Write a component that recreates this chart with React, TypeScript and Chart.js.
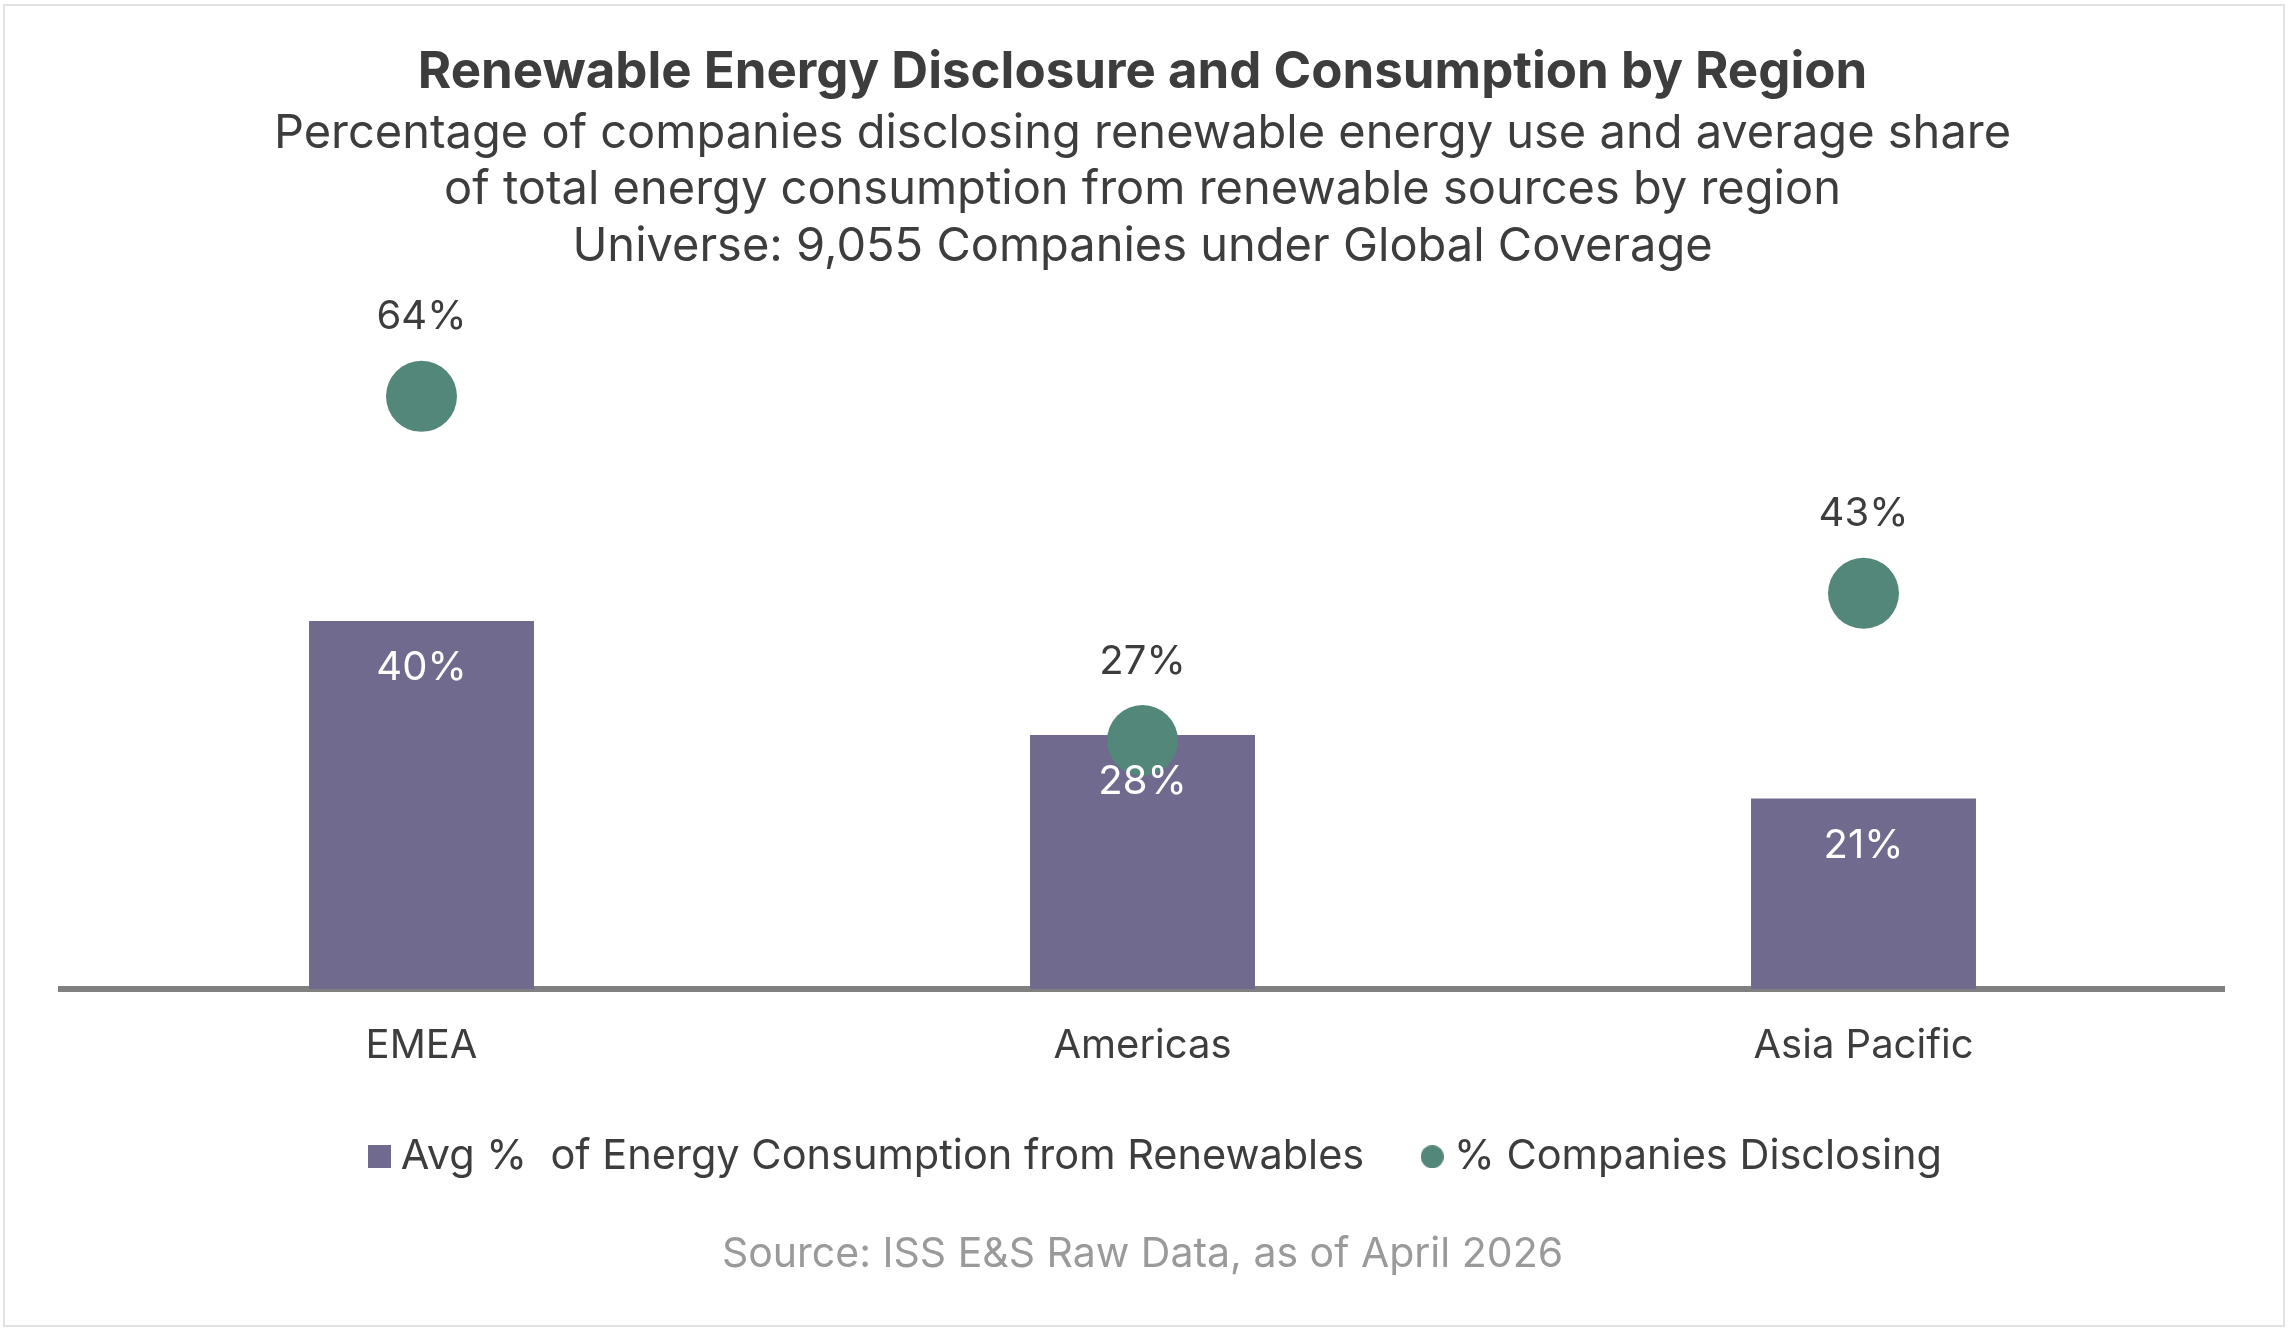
import React, { useEffect, useRef } from "react";
import { Chart, registerables } from "chart.js";

Chart.register(...registerables);

const categories = ["EMEA", "Americas", "Asia Pacific"];
const avgRenewableShare = [40, 27.6, 20.7];
const companiesDisclosing = [64.4, 27, 43];
const seriesNames = ["Avg %  of Energy Consumption from Renewables", "% Companies Disclosing"];
const titleText = "Renewable Energy Disclosure and Consumption by Region";
const subtitleLines = [
  "Percentage of companies disclosing renewable energy use and average share",
  "of total energy consumption from renewable sources by region",
  "Universe: 9,055 Companies under Global Coverage",
];
const sourceText = "Source: ISS E&S Raw Data, as of April 2026";

const FONT = "Inter, 'Liberation Sans', Arial, sans-serif";
const BAR_COLOR = "#706a8e";
const DOT_COLOR = "#53877a";
const TEXT_DARK = "#3d3d3d";

function makeRectIcon(w: number, h: number, color: string) {
  const c = document.createElement("canvas");
  c.width = w;
  c.height = h;
  const g = c.getContext("2d")!;
  g.fillStyle = color;
  g.fillRect(0, 0, w, h);
  return c;
}

function makeCircleIcon(d: number, color: string) {
  const c = document.createElement("canvas");
  c.width = d;
  c.height = d;
  const g = c.getContext("2d")!;
  g.fillStyle = color;
  g.beginPath();
  g.arc(d / 2, d / 2, d / 2, 0, Math.PI * 2);
  g.fill();
  return c;
}

const pct = (v: number) => `${Math.round(v)}%`;

const labelsPlugin = {
  id: "valueLabels",
  afterLayout(chart: any) {
    const lg = chart.legend;
    if (lg) {
      lg.left += 17.5;
      lg.right += 17.5;
    }
  },
  afterDatasetsDraw(chart: any) {
    const ctx = chart.ctx;
    ctx.save();
    ctx.textAlign = "center";
    ctx.textBaseline = "middle";
    ctx.font = `40px ${FONT}`;
    const lineMeta = chart.getDatasetMeta(1);
    lineMeta.data.forEach((pt: any, i: number) => {
      ctx.fillStyle = TEXT_DARK;
      ctx.fillText(pct(companiesDisclosing[i]), pt.x, pt.y - 79);
    });
    const barMeta = chart.getDatasetMeta(0);
    barMeta.data.forEach((bar: any, i: number) => {
      ctx.fillStyle = "#ffffff";
      ctx.fillText(pct(avgRenewableShare[i]), bar.x, bar.y + 47);
    });
    ctx.restore();
  },
  afterDraw(chart: any) {
    const ctx = chart.ctx;
    ctx.save();
    ctx.textAlign = "center";
    ctx.textBaseline = "middle";
    ctx.font = `41px ${FONT}`;
    ctx.fillStyle = "#9a9a9a";
    const cx = (chart.chartArea.left + chart.chartArea.right) / 2;
    ctx.fillText(sourceText, cx, 1255);
    ctx.restore();
  },
};

export default function App() {
  const ref = useRef<HTMLCanvasElement | null>(null);

  useEffect(() => {
    if (!ref.current) return;
    const rectIcon = makeRectIcon(23, 23, BAR_COLOR);
    const circleIcon = makeCircleIcon(23, DOT_COLOR);
    const chart = new Chart(ref.current, {
      type: "bar",
      data: {
        labels: categories,
        datasets: [
          {
            type: "bar",
            label: seriesNames[0],
            data: avgRenewableShare,
            backgroundColor: BAR_COLOR,
            borderWidth: 0,
            categoryPercentage: 1,
            barPercentage: 0.312,
            order: 1,
          },
          {
            type: "line",
            label: seriesNames[1],
            data: companiesDisclosing,
            showLine: false,
            pointRadius: 35.5,
            pointHoverRadius: 35.5,
            pointBackgroundColor: DOT_COLOR,
            pointBorderWidth: 0,
            borderColor: DOT_COLOR,
            backgroundColor: DOT_COLOR,
            order: 0,
          } as any,
        ],
      },
      options: {
        animation: false,
        responsive: false,
        layout: { padding: { left: 61, right: 67, top: 0, bottom: 145.5 } },
        scales: {
          x: {
            grid: { display: false, drawTicks: false },
            border: { display: true, color: "#808080", width: 6 },
            ticks: { color: TEXT_DARK, font: { family: FONT, size: 40 }, padding: 33 },
            afterFit: (scale: any) => {
              scale.height = 80;
            },
          },
          y: {
            display: false,
            min: 0,
            max: 75,
          },
        },
        plugins: {
          tooltip: { enabled: false },
          title: {
            display: true,
            text: titleText,
            color: TEXT_DARK,
            font: { family: FONT, size: 51, weight: "bold", lineHeight: 1.2 },
            padding: { top: 42.4, bottom: 0 },
          },
          subtitle: {
            display: true,
            text: subtitleLines,
            color: TEXT_DARK,
            font: { family: FONT, size: 47, lineHeight: 1.2 },
            padding: { top: 2, bottom: 24 },
          },
          legend: {
            position: "bottom",
            labels: {
              usePointStyle: true,
              boxWidth: 2,
              boxHeight: 2,
              padding: 67,
              color: TEXT_DARK,
              font: { family: FONT, size: 41.5 },
              generateLabels: () => [
                {
                  text: seriesNames[0],
                  fillStyle: BAR_COLOR,
                  strokeStyle: BAR_COLOR,
                  lineWidth: 0,
                  pointStyle: rectIcon,
                  hidden: false,
                  datasetIndex: 0,
                  fontColor: TEXT_DARK,
                } as any,
                {
                  text: seriesNames[1],
                  fillStyle: DOT_COLOR,
                  strokeStyle: DOT_COLOR,
                  lineWidth: 0,
                  pointStyle: circleIcon,
                  hidden: false,
                  datasetIndex: 1,
                  fontColor: TEXT_DARK,
                } as any,
              ],
            },
          },
        },
      },
      plugins: [labelsPlugin],
    });
    return () => chart.destroy();
  }, []);

  return (
    <div style={{ position: "absolute", left: 0, top: 0, width: 2291, height: 1333, background: "#ffffff" }}>
      <div
        style={{
          position: "absolute",
          left: 3,
          top: 4,
          width: 2282,
          height: 1323,
          boxSizing: "border-box",
          border: "2px solid #e2e2e2",
        }}
      />
      <canvas ref={ref} width={2291} height={1333} style={{ position: "absolute", left: 0, top: 0, width: 2291, height: 1333 }} />
    </div>
  );
}
